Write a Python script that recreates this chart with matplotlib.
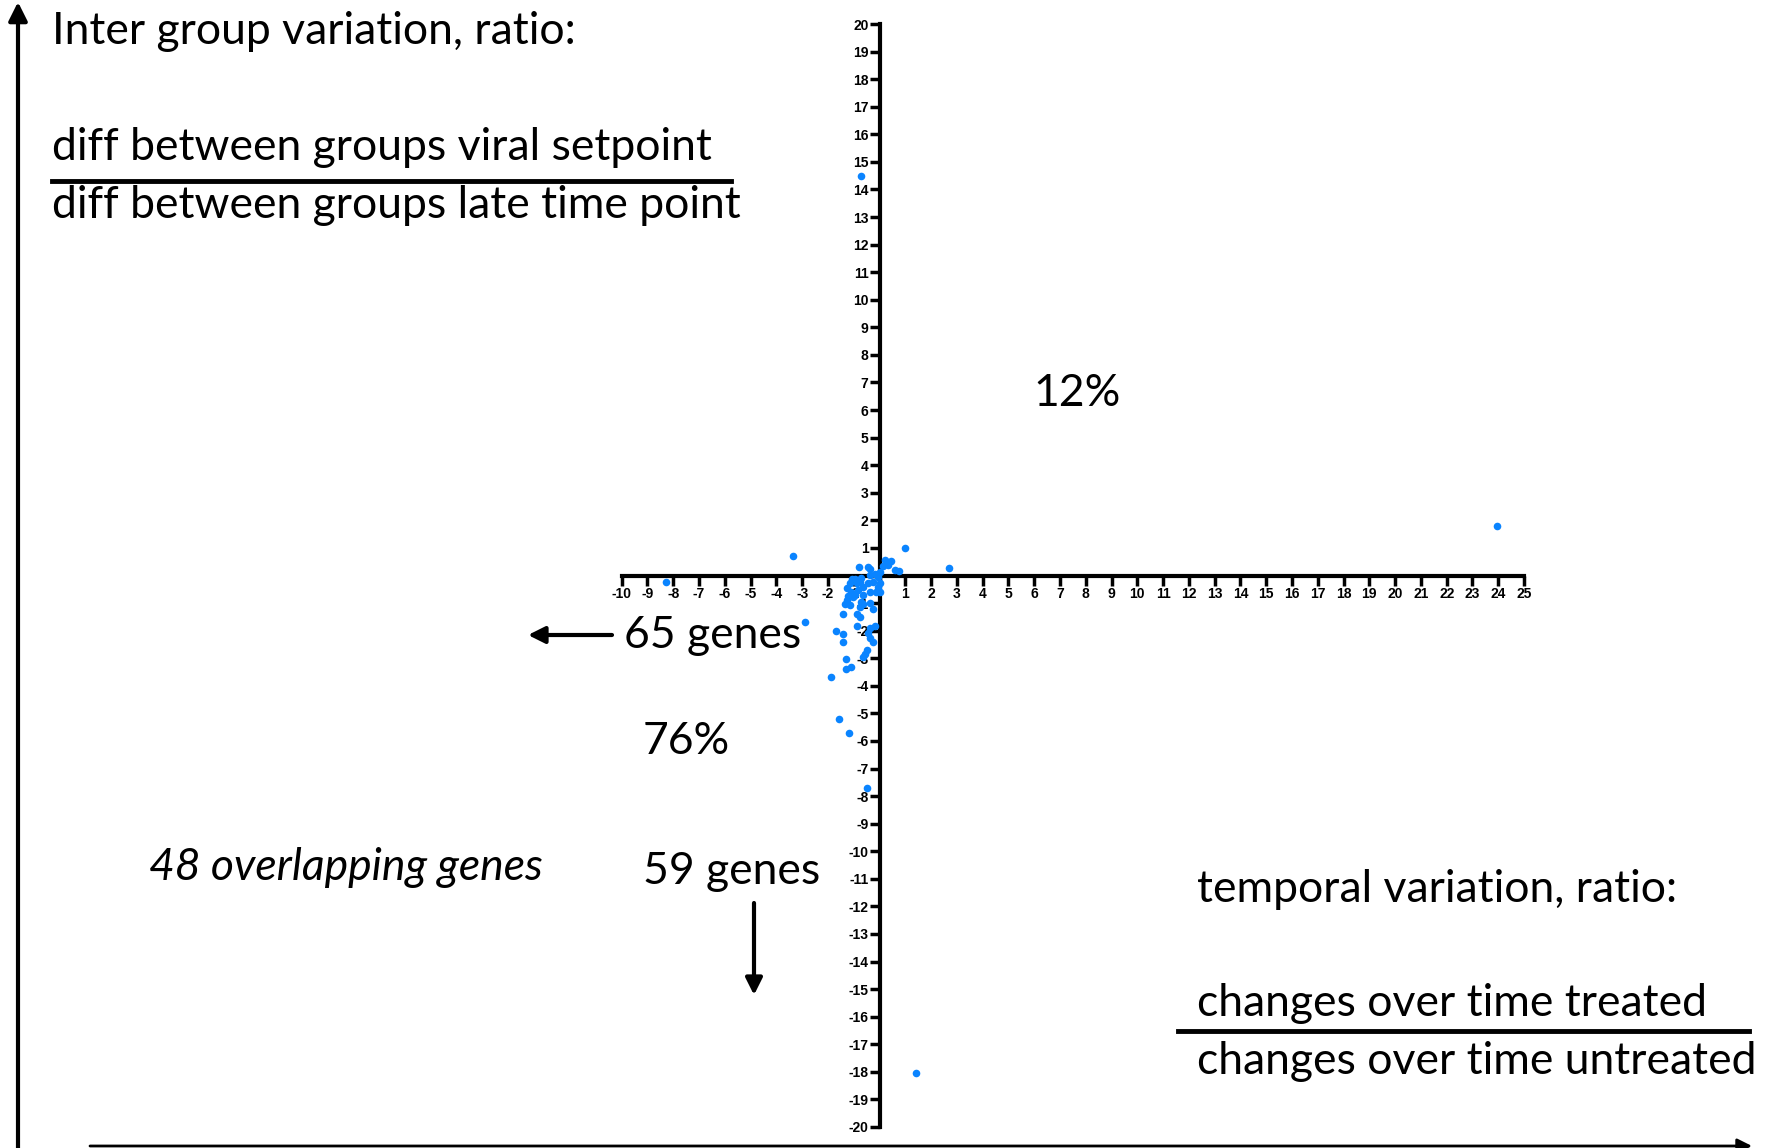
import matplotlib
matplotlib.use("Agg")
import matplotlib.pyplot as plt

# ratio scatter: temporal variation (x) vs inter group variation (y)
temporal_ratio = [
    -8.28, -3.37, -2.90, -0.70, 23.95, 1.43, 1.00, 2.71, -1.90, -1.59, -1.19, -0.48,
    0.20, 0.46, 0.33, 0.59, 0.76, 0.12, 0.01,
    -0.79, -0.46, -0.38, -0.18, -0.38,
    -0.70, -0.89, -1.15, -1.28, -1.09, -0.83, -0.63, -0.44, -0.25, -0.05,
    0.01, -0.38, -0.63, -0.96, -0.12, -0.76, -1.08, -0.96, 0.01, -0.05,
    -1.21, -1.04, -1.28, -1.34, -1.15, -0.70, -0.63, -0.76, -0.38, -0.27,
    -1.41, -0.89, -0.74, -0.89, -0.19, -0.38, -0.44, -0.35, -0.27, -1.69,
    -1.41, -1.41, -0.48, -0.57, -0.63, -1.30, -1.09, -1.30,
]
group_ratio = [
    -0.22, 0.70, -1.70, 14.49, 1.80, -18.03, 0.98, 0.26, -3.69, -5.22, -5.72, -7.70,
    0.56, 0.52, 0.38, 0.20, 0.17, 0.34, 0.14,
    0.32, 0.32, 0.24, 0.05, 0.02,
    -0.10, -0.29, -0.29, -0.47, -0.59, -0.53, -0.41, -0.29, -0.22, -0.41,
    -0.59, -0.59, -0.71, -0.71, -0.59, -0.22, -0.14, -0.14, -0.28, -0.04,
    -0.75, -0.79, -0.89, -1.03, -1.07, -0.95, -1.03, -1.15, -1.01, -1.21,
    -1.41, -1.40, -1.52, -1.83, -1.82, -1.92, -2.08, -2.26, -2.41, -2.01,
    -2.12, -2.40, -2.70, -2.86, -2.94, -3.01, -3.31, -3.40,
]
x_ticks = list(range(-10, 26))
y_ticks = list(range(-20, 21))

W, H = 1769, 1148
fig = plt.figure(figsize=(W / 100, H / 100), dpi=100)

# pixel-space layer for the words and arrows around the plot
ov = fig.add_axes([0, 0, 1, 1])
ov.set_xlim(0, W)
ov.set_ylim(H, 0)
ov.axis("off")

ax = fig.add_axes([621.7 / W, 21 / H, (1524 - 621.7) / W, (1127 - 24) / H])
ax.patch.set_visible(False)
ax.scatter(temporal_ratio, group_ratio, s=30, color="#0a84ff", zorder=3,
           linewidths=0)
ax.set_xlim(-10, 25)
ax.set_ylim(-20, 20)
for side in ["top", "right"]:
    ax.spines[side].set_visible(False)
for side in ["left", "bottom"]:
    ax.spines[side].set_position(("data", 0))
    ax.spines[side].set_linewidth(3)
ax.set_xticks(x_ticks)
ax.set_xticklabels(["" if t == 0 else str(t) for t in x_ticks])
ax.set_yticks(y_ticks)
ax.set_yticklabels(["" if t == 0 else str(t) for t in y_ticks])
ax.tick_params(direction="out", length=7, width=2.5, pad=1)
for lab in ax.get_xticklabels() + ax.get_yticklabels():
    lab.set_fontfamily("Liberation Sans")
    lab.set_fontweight("bold")
    lab.set_fontsize(10)

fam = "Lato"
fs = 32


def put(x, y, s, **kw):
    ov.text(x, y, s, fontfamily=fam, fontsize=fs, va="center", ha="left", **kw)


put(52, 32, "Inter group variation, ratio:")
put(52, 148, "diff between groups viral setpoint")
put(52, 206, "diff between groups late time point")
ov.plot([52, 731], [180.5, 180.5], color="black", lw=3.5)

put(1033, 394, "12%")
put(624, 635, "65 genes")
put(643, 741, "76%")
put(149, 867, "48 overlapping genes", style="italic")
put(643, 871, "59 genes")

put(1197, 889, "temporal variation, ratio:")
put(1197, 1003, "changes over time treated")
put(1197, 1061, "changes over time untreated")
ov.plot([1178, 1749], [1031, 1031], color="black", lw=3.5)

arrow = dict(arrowstyle="-|>", color="black", shrinkA=0, shrinkB=0)
ov.annotate("", xy=(18, 2), xytext=(18, H + 5),
            arrowprops=dict(arrow, lw=3, mutation_scale=28))
ov.annotate("", xy=(1752, 1146), xytext=(90, 1146),
            arrowprops=dict(arrow, lw=2, mutation_scale=22))
ov.annotate("", xy=(528, 635), xytext=(612, 635),
            arrowprops=dict(arrow, lw=3, mutation_scale=25))
ov.annotate("", xy=(754, 995), xytext=(754, 903),
            arrowprops=dict(arrow, lw=3, mutation_scale=25))

fig.savefig("out.png", dpi=100)
